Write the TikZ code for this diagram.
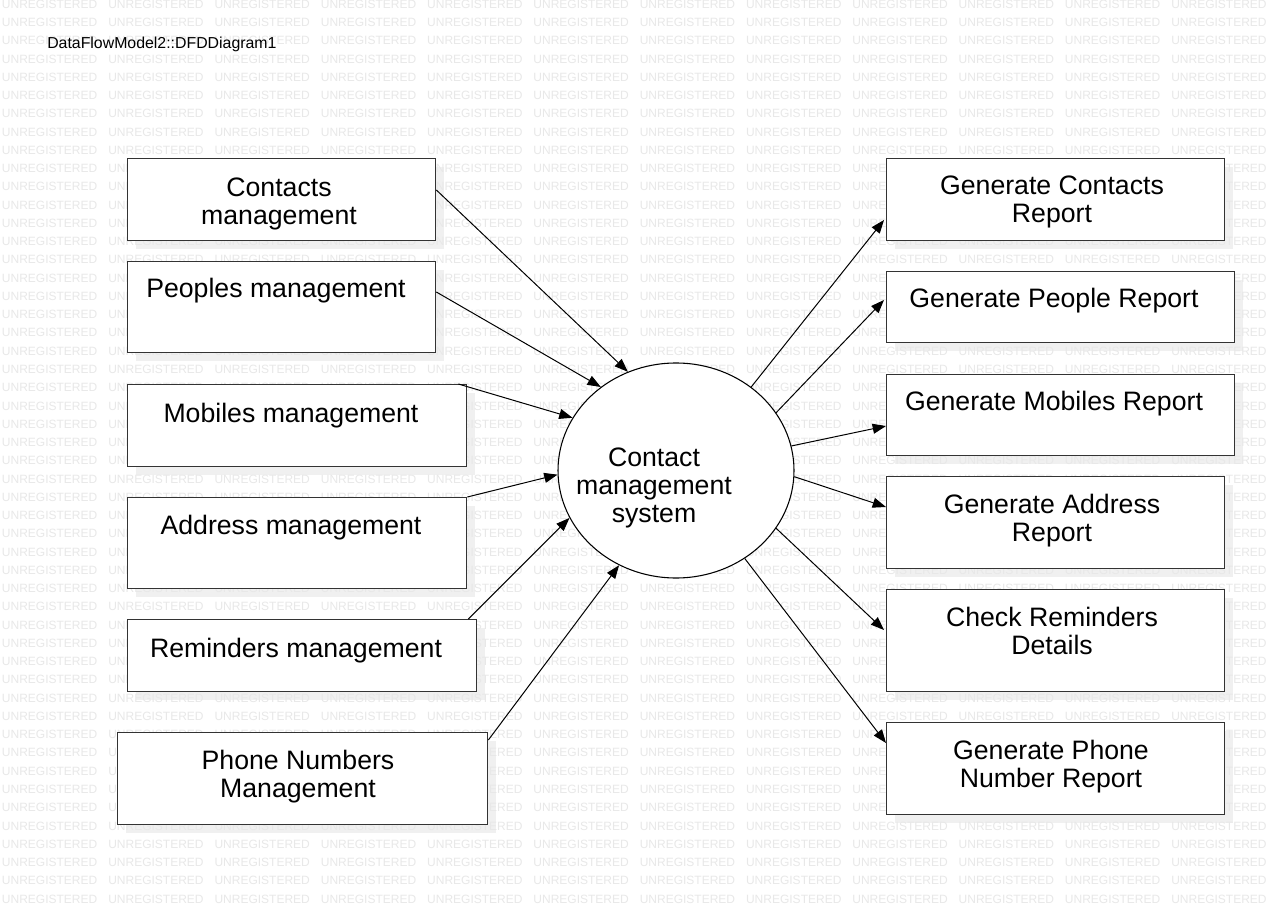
\documentclass[tikz,border=0pt]{standalone}
\usepackage{fontspec}
\setmainfont{Liberation Sans}
\usetikzlibrary{shapes.geometric,arrows.meta,calc}
\begin{document}
\begin{tikzpicture}[x=0.75pt,y=-0.75pt,
  box/.style={draw=black!80, line width=1pt, fill=white, inner sep=0pt, anchor=north west},
  sz/.style 2 args={minimum width=#1*0.75pt, minimum height=#2*0.75pt},
  shade/.style={fill=black!6, draw=none},
  lbl/.style={font=\fontsize{20}{21}\selectfont, align=center, anchor=base, inner sep=0pt},
  flow/.style={draw=black, line width=0.75pt, -{Triangle[length=10pt,width=7.5pt]}},
  wm/.style={font=\fontsize{9}{10}\selectfont, text=black!9, anchor=base west, inner sep=0pt}]
\useasboundingbox (0,0) rectangle (1280,905);
\fill[white] (0,0) rectangle (1280,905);
% shadows
\foreach \x/\y/\w/\h in {127/158/308/82, 127/261/308/91, 127/384/339/82, 127/497/339/91, 127/619/349/72, 117/732/370/92,
  886/158/338/82, 886/271/348/71, 886/374/348/81, 886/476/338/92, 886/589/338/102, 886/722/338/92}
  \fill[shade] ({\x+9},{\y+9}) rectangle ({\x+\w+9},{\y+\h+9});
% watermark
\begin{scope}
\clip (0,0) rectangle (1280,905);
\foreach \r in {0,...,49}
  \foreach \c in {0,...,11}
    \node[wm] (wm-\r-\c) at ({1.7+106.3*\c},{8.3+18.26*\r}) {UNREGISTERED};
\end{scope}
% title
\node[font=\fontsize{11.9}{14}\selectfont, anchor=base west, inner sep=0pt] (title) at (47,48.3) {DataFlowModel2::DFDDiagram1};
% left boxes
\node[box, sz={308}{82}] (cm) at (127,158) {};
\node[box, sz={308}{91}] (pm) at (127,261) {};
\node[box, sz={339}{82}] (mm) at (127,384) {};
\node[box, sz={339}{91}] (am) at (127,497) {};
\node[box, sz={349}{72}] (rm) at (127,619) {};
\node[box, sz={370}{92}] (pn) at (117,732) {};
% right boxes
\node[box, sz={338}{82}] (gc) at (886,158) {};
\node[box, sz={348}{71}] (gp) at (886,271) {};
\node[box, sz={348}{81}] (gm) at (886,374) {};
\node[box, sz={338}{92}] (ga) at (886,476) {};
\node[box, sz={338}{102}] (cr) at (886,589) {};
\node[box, sz={338}{92}] (gn) at (886,722) {};
% central process
\node[ellipse, draw=black, line width=0.8pt, fill=white, inner sep=0pt, sz={236}{215}] (sys) at (676,470.5) {};
% labels (base anchor = baseline of the last line)
\node[lbl] (cm-t) at (279,225) {Contacts\\management};
\node[lbl] (pm-t) at (276,298) {Peoples management};
\node[lbl] (mm-t) at (291,422) {Mobiles management};
\node[lbl] (am-t) at (291,534) {Address management};
\node[lbl] (rm-t) at (296,657) {Reminders management};
\node[lbl] (pn-t) at (298,797) {Phone Numbers\\Management};
\node[lbl] (gc-t) at (1052,223) {Generate Contacts\\Report};
\node[lbl] (gp-t) at (1054,308) {Generate People Report};
\node[lbl] (gm-t) at (1054,410) {Generate Mobiles Report};
\node[lbl] (ga-t) at (1052,541) {Generate Address\\Report};
\node[lbl] (cr-t) at (1052,654) {Check Reminders\\Details};
\node[lbl] (gn-t) at (1051,787) {Generate Phone\\Number Report};
\node[lbl] (sys-t) at (654,522) {Contact\\management\\system};
% flows in
\draw[flow] ($(cm.north east)+(0,32)$) -- (sys.116.9);
\draw[flow] ($(pm.north east)+(0,31)$) -- (sys.132.4);
\draw[flow] ($(mm.north east)+(-9,0)$) -- (sys.153.9);
\draw[flow] (am.north east) -- (sys.182.6);
\draw[flow] ($(rm.north east)+(-9,0)$) -- (sys.204.8);
\draw[flow] ($(pn.north east)+(0,8)$) -- (sys.239.1);
% flows out
\draw[flow] (sys.48.7) -- ($(gc.north west)+(-2,62)$);
\draw[flow] (sys.30.1) -- ($(gp.north west)+(-2,29)$);
\draw[flow] (sys.12.2) -- ($(gm.north west)+(0,52)$);
\draw[flow] (sys.-3.2) -- ($(ga.north west)+(0,31)$);
\draw[flow] (sys.-30.1) -- ($(cr.north west)+(-2,41)$);
\draw[flow] (sys.-52.6) -- ($(gn.north west)+(0,21)$);
\end{tikzpicture}
\end{document}
